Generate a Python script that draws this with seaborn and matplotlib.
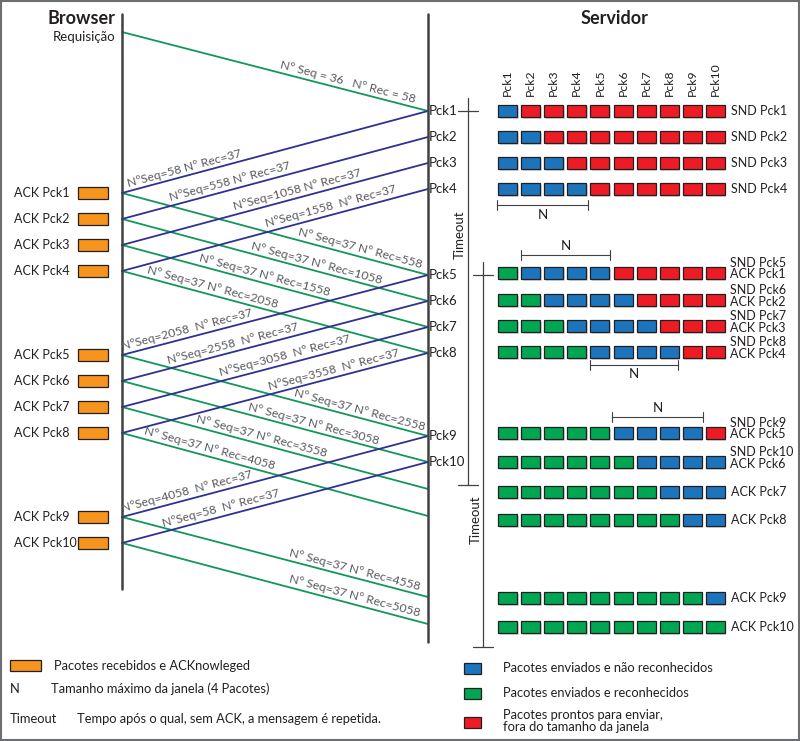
import numpy as np
import pandas as pd
import matplotlib.pyplot as plt
from matplotlib.patches import Rectangle
import seaborn as sns

# --- data -------------------------------------------------------------
packets = ["Pck1", "Pck2", "Pck3", "Pck4", "Pck5", "Pck6", "Pck7", "Pck8", "Pck9", "Pck10"]
# time rows (pixels down the page)
req_time = [32, 111]                                               # Requisição leaves browser / reaches server
snd_time = [111, 137, 163, 189, 275, 301, 327, 353, 436, 462]      # server sends Pck i
ack_time = [193, 219, 245, 271, 355, 381, 407, 433, 517, 543]      # browser receives Pck i and ACKs it
ack_arrive = [275, 301, 327, 353, 436, 462, 489, 516, 597, 624]    # ACK i reaches server

req_label = "Nº Seq = 36   Nº Rec = 58"
seq_labels = ["NºSeq=58 Nº Rec=37", "NºSeq=558 Nº Rec=37", "NºSeq=1058 Nº Rec=37",
              "NºSeq=1558  Nº Rec=37", "NºSeq=2058  Nº Rec=37", "NºSeq=2558  Nº Rec=37",
              "NºSeq=3058  Nº Rec=37", "NºSeq=3558  Nº Rec=37", "NºSeq=4058  Nº Rec=37",
              "NºSeq=58  Nº Rec=37"]
rec_labels = ["Nº Seq=37 Nº Rec=558", "Nº Seq=37 Nº Rec=1058", "Nº Seq=37 Nº Rec=1558",
              "Nº Seq=37 Nº Rec=2058", "Nº Seq=37 Nº Rec=2558", "Nº Seq=37 Nº Rec=3058",
              "Nº Seq=37 Nº Rec=3558", "Nº Seq=37 Nº Rec=4058", "Nº Seq=37 Nº Rec=4558",
              "Nº Seq=37 Nº Rec=5058"]

# window state: B = enviado e não reconhecido, G = reconhecido, R = fora da janela
window_rows = ["BRRRRRRRRR", "BBRRRRRRRR", "BBBRRRRRRR", "BBBBRRRRRR",
               "GBBBBRRRRR", "GGBBBBRRRR", "GGGBBBBRRR", "GGGGBBBBRR",
               "GGGGGBBBBR", "GGGGGGBBBB", "GGGGGGGBBB", "GGGGGGGGBB",
               "GGGGGGGGGB", "GGGGGGGGGG"]
window_time = [111, 137, 163, 189, 273, 300, 326, 352, 433, 462, 492, 520, 598, 627]
window_snd = ["SND Pck1", "SND Pck2", "SND Pck3", "SND Pck4", "SND Pck5", "SND Pck6",
              "SND Pck7", "SND Pck8", "SND Pck9", "SND Pck10", "", "", "", ""]
window_ack = ["", "", "", "", "ACK Pck1", "ACK Pck2", "ACK Pck3", "ACK Pck4",
              "ACK Pck5", "ACK Pck6", "ACK Pck7", "ACK Pck8", "ACK Pck9", "ACK Pck10"]

# --- layout / style ---------------------------------------------------
XB, XS = 122, 428
LINE_GREEN = "#12975a"
LINE_BLUE = "#2e3192"
BOX = {"B": "#1c75bc", "G": "#00a651", "R": "#ed1c24"}
ORANGE = "#f7941d"
EDGE = "#231f20"
TXT = "#231f20"
LBL = "#58595b"
GRAY = "#414042"

sns.set_theme(style="white")
plt.rcParams['font.family'] = ['Lato', 'DejaVu Sans']

fig = plt.figure(figsize=(8, 7.41), dpi=100)
ax = fig.add_axes([0, 0, 1, 1])

# segments of the time-sequence diagram
segs = [{"seg": 0, "kind": "ack", "x": XB, "y": req_time[0]},
        {"seg": 0, "kind": "ack", "x": XS, "y": req_time[1]}]
for i in range(len(packets)):
    segs += [{"seg": 1 + 2 * i, "kind": "data", "x": XS, "y": snd_time[i]},
             {"seg": 1 + 2 * i, "kind": "data", "x": XB, "y": ack_time[i]},
             {"seg": 2 + 2 * i, "kind": "ack", "x": XB, "y": ack_time[i]},
             {"seg": 2 + 2 * i, "kind": "ack", "x": XS, "y": ack_arrive[i]}]
seg_df = pd.DataFrame(segs)
sns.lineplot(data=seg_df, x="x", y="y", units="seg", hue="kind",
             palette={"ack": LINE_GREEN, "data": LINE_BLUE},
             estimator=None, sort=False, legend=False, linewidth=1.3, ax=ax)

ax.set_xlim(0, 800)
ax.set_ylim(741, 0)
ax.axis("off")

# frame
ax.add_patch(Rectangle((1, 1), 798, 739, fill=False, ec="#6d6e71", lw=1.5))

# timelines
ax.plot([XB, XB], [14, 589], color=GRAY, lw=1.8)
ax.plot([XS, XS], [14, 642], color=GRAY, lw=1.8)
ax.text(115, 18, "Browser", ha="right", va="center", fontsize=13, fontweight="bold", color=TXT)
ax.text(614, 18, "Servidor", ha="center", va="center", fontsize=13, fontweight="bold", color=TXT)
ax.text(115, 37, "Requisição", ha="right", va="center", fontsize=9.5, color=TXT)


def line_label(x1, y1, x2, y2, frac, text, off=8):
    ang = np.degrees(np.arctan2(-(y2 - y1), x2 - x1))
    px = x1 + frac * (x2 - x1)
    py = y1 + frac * (y2 - y1)
    r = np.radians(ang)
    px += -off * np.sin(r)
    py += -off * np.cos(r)
    ax.text(px, py, text, rotation=ang, rotation_mode="anchor", ha="center", va="center",
            fontsize=8.8, color=LBL)


line_label(XB, req_time[0], XS, req_time[1], 0.73, req_label)
seq_frac = [0.21, 0.36, 0.58, 0.69, 0.22, 0.37, 0.54, 0.70, 0.22, 0.33]
rec_frac = [0.77, 0.63, 0.46, 0.29, 0.77, 0.62, 0.45, 0.28, 0.755, 0.755]
for i in range(len(packets)):
    line_label(XB, ack_time[i], XS, snd_time[i], seq_frac[i], seq_labels[i])
    line_label(XB, ack_time[i], XS, ack_arrive[i], rec_frac[i], rec_labels[i])
    # server-side packet names
    ax.text(XS + 1, snd_time[i], packets[i], ha="left", va="center", fontsize=9.5, color=TXT)
    # browser-side ACK names and orange boxes
    ax.text(14, ack_time[i], "ACK " + packets[i], ha="left", va="center", fontsize=9, color=TXT)
    ax.add_patch(Rectangle((78, ack_time[i] - 6), 30, 12, fc=ORANGE, ec=EDGE, lw=0.9))

# --- sliding window on the right ---------------------------------------
col_x0, pitch, bw, bh = 498, 23.1, 19, 12
for j, name in enumerate(packets):
    ax.text(col_x0 + bw / 2 + j * pitch, 96, name, rotation=90, ha="center", va="bottom",
            fontsize=8.8, color=TXT)
for r, row in enumerate(window_rows):
    y = window_time[r]
    for j, c in enumerate(row):
        x = col_x0 + j * pitch
        ax.add_patch(Rectangle((x + 1.5, y - bh / 2 + 1.5), bw, bh, fc="#bcbec0", ec="none", alpha=0.6))
        ax.add_patch(Rectangle((x, y - bh / 2), bw, bh, fc=BOX[c], ec=EDGE, lw=0.9))
    snd, ack = window_snd[r], window_ack[r]
    if snd and ack:
        ax.text(730, y - 10, snd, ha="left", va="center", fontsize=9, color=TXT)
        ax.text(730, y + 1.5, ack, ha="left", va="center", fontsize=9, color=TXT)
    else:
        ax.text(731, y, snd or ack, ha="left", va="center", fontsize=9, color=TXT)


def n_bracket(x1, x2, y, ty):
    ax.plot([x1, x2], [y, y], color=GRAY, lw=0.8)
    ax.plot([x1, x1], [y - 5, y + 5], color=GRAY, lw=0.8)
    ax.plot([x2, x2], [y - 5, y + 5], color=GRAY, lw=0.8)
    ax.text((x1 + x2) / 2, ty, "N", ha="center", va="center", fontsize=9.5, color=TXT)


n_bracket(497, 588, 205, 215)
n_bracket(521, 610, 255, 246)
n_bracket(590, 678, 365, 374)
n_bracket(612, 703, 417, 408)

# timeout brackets
ax.plot([468, 468], [98, 485], color=GRAY, lw=0.9)
ax.plot([458, 478], [111, 111], color=GRAY, lw=0.9)
ax.plot([458, 478], [485, 485], color=GRAY, lw=0.9)
ax.text(460, 235, "Timeout", rotation=90, ha="center", va="center", fontsize=9.5, color=TXT)
ax.plot([483, 483], [262, 647], color=GRAY, lw=0.9)
ax.plot([473, 493], [275, 275], color=GRAY, lw=0.9)
ax.plot([473, 493], [647, 647], color=GRAY, lw=0.9)
ax.text(476, 520, "Timeout", rotation=90, ha="center", va="center", fontsize=9.5, color=TXT)

# --- legend ------------------------------------------------------------
ax.add_patch(Rectangle((10, 660), 31, 11, fc=ORANGE, ec=EDGE, lw=0.9))
ax.text(54, 666, "Pacotes recebidos e ACKnowleged", ha="left", va="center", fontsize=9.3, color=TXT)
ax.text(10, 689, "N", ha="left", va="center", fontsize=9.3, color=TXT)
ax.text(51, 689, "Tamanho máximo da janela (4 Pacotes)", ha="left", va="center", fontsize=9.3, color=TXT)
ax.text(10, 719, "Timeout", ha="left", va="center", fontsize=9.3, color=TXT)
ax.text(77, 719, "Tempo após o qual, sem ACK, a mensagem é repetida.", ha="left", va="center",
        fontsize=9.3, color=TXT)
legend_items = [("B", 668, "Pacotes enviados e não reconhecidos"),
                ("G", 693, "Pacotes enviados e reconhecidos"),
                ("R", 722, "Pacotes prontos para enviar,\nfora do tamanho da janela")]
for c, y, t in legend_items:
    ax.add_patch(Rectangle((464, y - 5.5), 17, 11, fc=BOX[c], ec=EDGE, lw=0.9))
    ax.text(503, y - 1 if "\n" in t else y, t, ha="left", va="center", fontsize=9.3,
            color=TXT, linespacing=1.0)

fig.savefig("out.png", dpi=100)
